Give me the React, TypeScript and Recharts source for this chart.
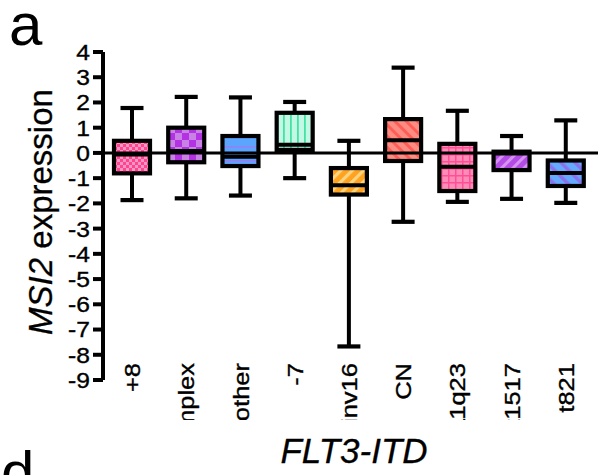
import React from "react";
import { ComposedChart, Bar, XAxis, YAxis, ReferenceLine } from "recharts";

const categories = ["+8", "complex", "other", "-7", "inv16", "CN", "11q23", "t1517", "t821"];
const maxVals = [1.78, 2.22, 2.2, 2.02, 0.48, 3.38, 1.67, 0.67, 1.29];
const q3Vals = [0.48, 1.0, 0.67, 1.59, -0.6, 1.34, 0.36, 0.05, -0.3];
const medVals = [-0.06, 0.08, -0.15, 0.32, -1.28, 0.5, -0.55, -0.02, -0.8];
const q1Vals = [-0.81, -0.37, -0.52, 0.12, -1.65, -0.32, -1.51, -0.68, -1.31];
const minVals = [-1.87, -1.8, -1.69, -1.0, -7.67, -2.73, -1.94, -1.82, -1.98];
const yTicks = [4, 3, 2, 1, 0, -1, -2, -3, -4, -5, -6, -7, -8, -9];

const data = categories.map((c, i) => ({
  cat: c,
  range: [minVals[i], maxVals[i]],
  min: minVals[i],
  q1: q1Vals[i],
  med: medVals[i],
  q3: q3Vals[i],
  max: maxVals[i],
  idx: i,
}));

const FONT = "'Liberation Sans', Arial, Helvetica, sans-serif";

const BoxShape = (props: any) => {
  const { x, y, width, height, payload } = props;
  if (x == null || y == null) return null;
  const top = Math.min(y, y + height);
  const bottom = Math.max(y, y + height);
  const ppu = (bottom - top) / (payload.max - payload.min);
  const toY = (v: number) => top + (payload.max - v) * ppu;
  const cx = x + width / 2;
  const capHalf = 11.5;
  const yQ3 = toY(payload.q3);
  const yQ1 = toY(payload.q1);
  const yMed = toY(payload.med);
  return (
    <g>
      <line x1={cx} x2={cx} y1={top} y2={bottom} stroke="#000" strokeWidth={4} />
      <line x1={cx - capHalf} x2={cx + capHalf} y1={top} y2={top} stroke="#000" strokeWidth={4.2} />
      <line x1={cx - capHalf} x2={cx + capHalf} y1={bottom} y2={bottom} stroke="#000" strokeWidth={4.2} />
      <rect x={x} y={yQ3} width={width} height={yQ1 - yQ3} fill={`url(#pat${payload.idx})`} stroke="#000" strokeWidth={4.2} />
      <line x1={x} x2={x + width} y1={yMed} y2={yMed} stroke="#000" strokeWidth={4} />
    </g>
  );
};

const XTick = (props: any) => {
  const { x, y, payload } = props;
  return (
    <g clipPath="url(#xclip)">
      <text
        transform={`translate(${x + 8},${y - 17}) rotate(-90) scale(1.16,1)`}
        textAnchor="end"
        fontSize={22}
        fontFamily={FONT}
        fill="#000"
        stroke="#000"
        strokeWidth={0.35}
      >
        {payload.value}
      </text>
    </g>
  );
};

const YTick = (props: any) => {
  const { x, y, payload } = props;
  return (
    <text
      transform={`translate(${x},${y}) scale(1.12,1)`}
      textAnchor="end"
      dy="0.36em"
      fontSize={22}
      fontFamily={FONT}
      fill="#000"
      stroke="#000"
      strokeWidth={0.35}
    >
      {String(payload.value)}
    </text>
  );
};

export default function App() {
  return (
    <div style={{ position: "absolute", left: 0, top: 0, width: 598, height: 475, background: "#fff" }}>
      <ComposedChart
        width={598}
        height={475}
        data={data}
        margin={{ top: 52, right: 0, bottom: 0, left: 0 }}
      >
        <defs>
          <clipPath id="xclip">
            <rect x={0} y={0} width={598} height={420} />
          </clipPath>
          <pattern id="pat0" patternUnits="userSpaceOnUse" width={6} height={6}>
            <rect width={6} height={6} fill="#ff4590" />
            <rect x={0} y={0} width={3} height={3} fill="#ff95c2" />
            <rect x={3} y={3} width={3} height={3} fill="#ff95c2" />
          </pattern>
          <pattern id="pat1" patternUnits="userSpaceOnUse" width={14} height={14}>
            <rect width={14} height={14} fill="#b431e4" />
            <rect x={0} y={0} width={7} height={7} fill="#c882e4" />
            <rect x={7} y={7} width={7} height={7} fill="#c882e4" />
          </pattern>
          <pattern id="pat2" patternUnits="userSpaceOnUse" width={14} height={14}>
            <rect width={14} height={14} fill="#5ba5ff" />
            <rect x={0} y={6} width={14} height={1.6} fill="#9480f2" />
          </pattern>
          <pattern id="pat3" patternUnits="userSpaceOnUse" width={7} height={7}>
            <rect width={7} height={7} fill="#c3f9e4" />
            <rect x={3} y={0} width={1.8} height={7} fill="#45e2a5" />
          </pattern>
          <pattern id="pat4" patternUnits="userSpaceOnUse" width={8} height={8} patternTransform="rotate(45)">
            <rect width={8} height={8} fill="#ffa21f" />
            <rect x={0} y={0} width={3.2} height={8} fill="#ffd47e" />
          </pattern>
          <pattern id="pat5" patternUnits="userSpaceOnUse" width={8} height={8} patternTransform="rotate(-45)">
            <rect width={8} height={8} fill="#ff8c83" />
            <rect x={0} y={0} width={3} height={8} fill="#ff5e56" />
          </pattern>
          <pattern id="pat6" patternUnits="userSpaceOnUse" width={7} height={7}>
            <rect width={7} height={7} fill="#ff8cb6" />
            <rect x={0} y={0} width={1.5} height={7} fill="#ff4f96" />
            <rect x={0} y={0} width={7} height={1.5} fill="#ff4f96" />
          </pattern>
          <pattern id="pat7" patternUnits="userSpaceOnUse" width={8} height={8} patternTransform="rotate(45)">
            <rect width={8} height={8} fill="#b34be6" />
            <rect x={0} y={0} width={3} height={8} fill="#d592f0" />
          </pattern>
          <pattern id="pat8" patternUnits="userSpaceOnUse" width={10} height={10} patternTransform="rotate(-45)">
            <rect width={10} height={10} fill="#65aaff" />
            <rect x={0} y={0} width={3.5} height={10} fill="#8a72ee" />
          </pattern>
        </defs>
        <XAxis
          dataKey="cat"
          type="category"
          height={95}
          axisLine={false}
          tickLine={false}
          tickSize={0}
          tickMargin={0}
          interval={0}
          padding={{ left: 2, right: 5 }}
          tick={<XTick />}
        />
        <YAxis
          type="number"
          domain={[-9, 4]}
          ticks={yTicks}
          interval={0}
          width={103}
          allowDataOverflow
          axisLine={{ stroke: "#000", strokeWidth: 4 }}
          tickLine={{ stroke: "#000", strokeWidth: 4 }}
          tickSize={10}
          tickMargin={3}
          tick={<YTick />}
        />
        <Bar dataKey="range" barSize={36} shape={<BoxShape />} isAnimationActive={false} />
        <ReferenceLine y={0} stroke="#000" strokeWidth={3} />
      </ComposedChart>
      <svg
        width={598}
        height={475}
        style={{ position: "absolute", left: 0, top: 0, pointerEvents: "none" }}
      >
        <text x={9} y={45} fontSize={60} fontFamily={FONT} fill="#000">a</text>
        <text transform="translate(52,212) rotate(-90)" textAnchor="middle" fontSize={33} fontFamily={FONT} fill="#000" stroke="#000" strokeWidth={0.3}>
          <tspan fontStyle="italic">MSI2</tspan> expression
        </text>
        <text x={354} y={463} textAnchor="middle" fontSize={35} fontStyle="italic" fontFamily={FONT} fill="#000" stroke="#000" strokeWidth={0.3}>FLT3-ITD</text>
        <text x={1} y={493} fontSize={60} fontFamily={FONT} fill="#000">d</text>
      </svg>
    </div>
  );
}
